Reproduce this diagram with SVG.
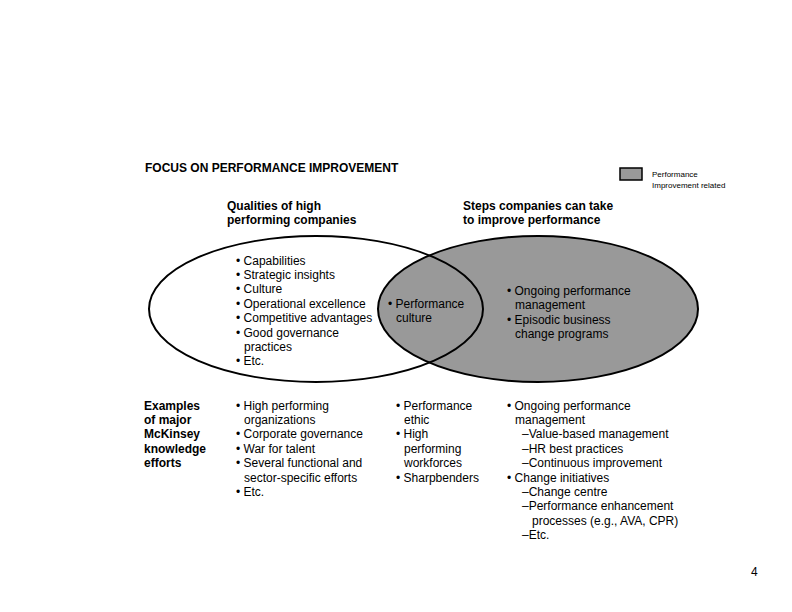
<svg xmlns="http://www.w3.org/2000/svg" width="792" height="612" viewBox="0 0 792 612">
<style>
text{font-family:"Liberation Sans",Arial,sans-serif;font-size:12px;fill:#000}
.b{font-weight:bold}
.s{font-size:8px}
</style>
<rect width="792" height="612" fill="#fff"/>
<text class="b" x="145" y="172">FOCUS ON PERFORMANCE IMPROVEMENT</text>
<g id="legend"><rect x="620" y="168" width="22" height="12" fill="#999" stroke="#000" stroke-width="1.5"/>
<text class="s" x="652" y="177">Performance</text><text class="s" x="652" y="188">Improvement related</text></g>
<g id="ellipses">
<ellipse cx="316" cy="309" rx="167" ry="73" fill="#fff"/>
<ellipse cx="538" cy="309" rx="160" ry="73" fill="#999"/>
<ellipse cx="316" cy="309" rx="167" ry="73" fill="none" stroke="#000" stroke-width="2"/>
<ellipse cx="538" cy="309" rx="160" ry="73" fill="none" stroke="#000" stroke-width="2"/>
</g>
<g id="headers">
<text class="b" x="227" y="210">Qualities of high</text><text class="b" x="227" y="224">performing companies</text>
<text class="b" x="463" y="210">Steps companies can take</text><text class="b" x="463" y="224">to improve performance</text>
</g>
<g id="left">
<text x="236" y="265">• Capabilities</text>
<text x="236" y="279">• Strategic insights</text>
<text x="236" y="293">• Culture</text>
<text x="236" y="308">• Operational excellence</text>
<text x="236" y="322">• Competitive advantages</text>
<text x="236" y="337">• Good governance</text>
<text x="244" y="351">practices</text>
<text x="236" y="365">• Etc.</text>
</g>
<g id="mid"><text x="388" y="308">• Performance</text><text x="396" y="322">culture</text></g>
<g id="right">
<text x="507" y="295">• Ongoing performance</text><text x="515" y="309">management</text>
<text x="507" y="324">• Episodic business</text><text x="515" y="338">change programs</text>
</g>
<g id="examples">
<text class="b" x="144" y="410">Examples</text><text class="b" x="144" y="424">of major</text><text class="b" x="144" y="438">McKinsey</text><text class="b" x="144" y="453">knowledge</text><text class="b" x="144" y="467">efforts</text>
<text x="236" y="410">• High performing</text><text x="244" y="424">organizations</text>
<text x="236" y="438">• Corporate governance</text>
<text x="236" y="453">• War for talent</text>
<text x="236" y="467">• Several functional and</text><text x="244" y="482">sector-specific efforts</text>
<text x="236" y="496">• Etc.</text>
<text x="396" y="410">• Performance</text><text x="404" y="424">ethic</text>
<text x="396" y="438">• High</text><text x="404" y="453">performing</text><text x="404" y="467">workforces</text>
<text x="396" y="482">• Sharpbenders</text>
<text x="507" y="410">• Ongoing performance</text><text x="515" y="424">management</text>
<text x="522" y="438">–Value-based management</text>
<text x="522" y="453">–HR best practices</text>
<text x="522" y="467">–Continuous improvement</text>
<text x="507" y="482">• Change initiatives</text>
<text x="522" y="496">–Change centre</text>
<text x="522" y="510">–Performance enhancement</text>
<text x="532" y="525">processes (e.g., AVA, CPR)</text>
<text x="522" y="539">–Etc.</text>
</g>
<text x="751" y="576">4</text>
</svg>
